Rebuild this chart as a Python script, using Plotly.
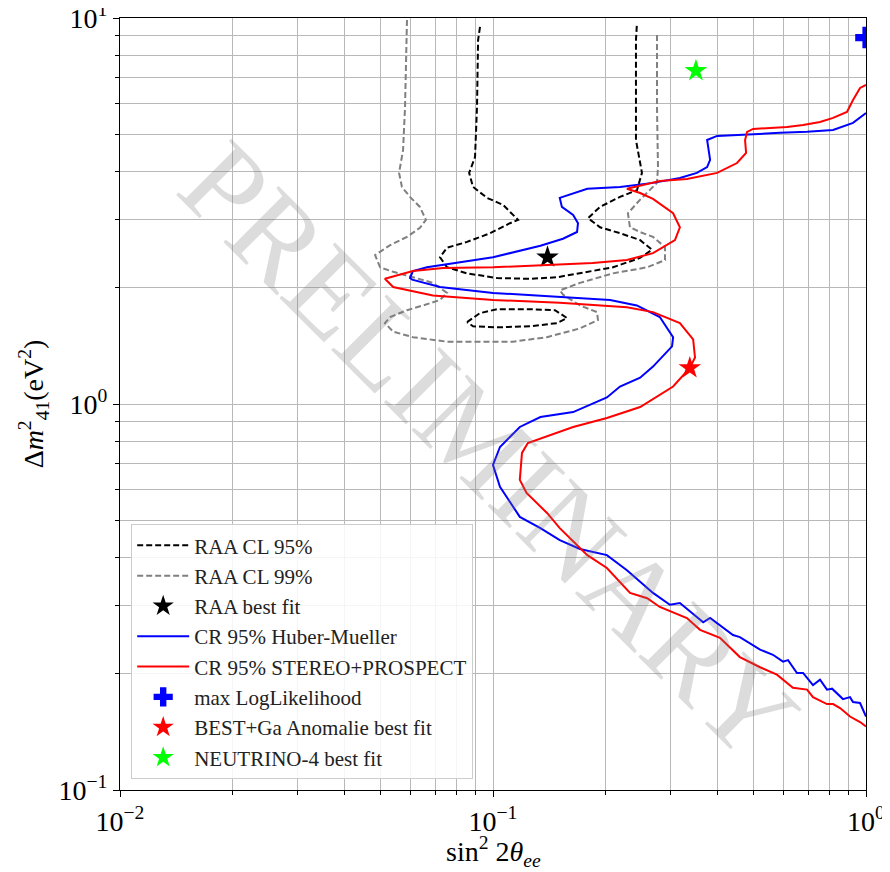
import plotly.graph_objects as go

# ---------------- data ----------------
hm_x = [1.0, 0.923, 0.816, 0.695, 0.588, 0.498, 0.432, 0.399, 0.375, 0.377, 0.382, 0.375, 0.352, 0.317,
        0.2685, 0.219, 0.179, 0.151, 0.153, 0.164, 0.169, 0.168, 0.154, 0.134, 0.118, 0.1, 0.0816, 0.0665,
        0.061, 0.0599, 0.0607, 0.0721, 0.1, 0.151, 0.206, 0.243, 0.280, 0.304, 0.302, 0.2685, 0.248, 0.219,
        0.202, 0.164, 0.134, 0.118, 0.1044, 0.1, 0.1044, 0.118, 0.134, 0.151, 0.171, 0.202, 0.2286, 0.2685,
        0.298, 0.317, 0.366, 0.382, 0.440, 0.459, 0.520, 0.563, 0.599, 0.618, 0.653, 0.678, 0.721, 0.753,
        0.786, 0.811, 0.8675, 0.906, 0.923, 0.964, 1.0]
hm_y = [5.67, 5.35, 5.13, 5.07, 5.04, 5.01, 4.98, 4.95, 4.83, 4.63, 4.29, 4.11, 3.97, 3.85,
        3.74, 3.65, 3.61, 3.42, 3.24, 3.09, 2.94, 2.79, 2.68, 2.57, 2.49, 2.40, 2.33, 2.26,
        2.21, 2.12, 2.10, 2.01, 1.94, 1.89, 1.86, 1.80, 1.68, 1.49, 1.41, 1.25, 1.17, 1.11,
        1.04, 0.953, 0.925, 0.872, 0.774, 0.695, 0.610, 0.510, 0.477, 0.444, 0.421, 0.406, 0.371, 0.324,
        0.302, 0.305, 0.272, 0.279, 0.252, 0.249, 0.231, 0.224, 0.215, 0.217, 0.201, 0.201, 0.187, 0.193,
        0.182, 0.183, 0.172, 0.174, 0.169, 0.168, 0.155]

sp_x = [1.0, 0.964, 0.923, 0.889, 0.816, 0.753, 0.678, 0.614, 0.498, 0.480, 0.474, 0.477, 0.451, 0.399,
        0.331, 0.280, 0.2286, 0.248, 0.2685, 0.304, 0.317, 0.3075, 0.2685, 0.2286, 0.185, 0.1396, 0.1,
        0.0735, 0.061, 0.0513, 0.054, 0.069, 0.1, 0.151, 0.2286, 0.2685, 0.317, 0.344, 0.348, 0.337, 0.304,
        0.248, 0.202, 0.164, 0.134, 0.124, 0.1196, 0.118, 0.123, 0.1396, 0.151, 0.179, 0.202, 0.233, 0.259,
        0.280, 0.331, 0.359, 0.406, 0.459, 0.520, 0.577, 0.637, 0.695, 0.721, 0.786, 0.816, 0.852, 0.906,
        0.964, 1.0]
sp_y = [6.71, 6.59, 6.13, 5.71, 5.51, 5.38, 5.28, 5.22, 5.16, 5.07, 4.83, 4.47, 4.21, 3.97,
        3.83, 3.78, 3.61, 3.52, 3.40, 3.12, 2.87, 2.66, 2.46, 2.36, 2.32, 2.29, 2.26,
        2.25, 2.21, 2.11, 2.01, 1.91, 1.86, 1.83, 1.78, 1.73, 1.62, 1.47, 1.32, 1.24, 1.11,
        0.982, 0.920, 0.872, 0.816, 0.792, 0.747, 0.636, 0.588, 0.522, 0.477, 0.406, 0.376, 0.324, 0.314,
        0.298, 0.279, 0.260, 0.248, 0.221, 0.208, 0.199, 0.184, 0.182, 0.174, 0.167, 0.167, 0.163, 0.155,
        0.150, 0.146]

raa95_x = [0.0923, 0.0912, 0.0906, 0.0895, 0.0863, 0.0884, 0.0964, 0.1064, 0.1167, 0.111, 0.0982, 0.0852,
           0.0753, 0.0721, 0.0753, 0.0852, 0.1025, 0.1257, 0.1484, 0.1711, 0.2098, 0.2477, 0.2668, 0.2477,
           0.219, 0.1936, 0.1798, 0.1936, 0.219, 0.2432, 0.2508, 0.2417, 0.2417, 0.2432,
           None,
           0.0852, 0.0923, 0.1025, 0.1257, 0.1466, 0.1579, 0.1484, 0.1257, 0.1025, 0.0884, 0.0852]
raa95_y = [9.48, 8.77, 5.88, 4.36, 3.97, 3.65, 3.42, 3.28, 3.00, 2.94, 2.77, 2.63,
           2.54, 2.40, 2.26, 2.18, 2.12, 2.11, 2.13, 2.18, 2.26, 2.39, 2.51, 2.66,
           2.77, 2.87, 3.03, 3.24, 3.44, 3.58, 3.97, 4.83, 8.77, 9.70,
           None,
           1.63, 1.72, 1.76, 1.76, 1.75, 1.67, 1.62, 1.59, 1.58, 1.59, 1.63]

raa99_x = [0.0588, 0.0581, 0.0574, 0.0560, 0.0570, 0.0599, 0.0637, 0.0661, 0.0637, 0.0588, 0.0530, 0.0483,
           0.0498, 0.0540, 0.0610, 0.0690, 0.0753, 0.0721, 0.0649, 0.0588, 0.0530, 0.0513, 0.0540, 0.0610,
           0.0753, 0.0923, 0.1131, 0.1396, 0.1711, 0.1912, 0.1900, 0.1711, 0.1541, 0.1512, 0.1711, 0.2098,
           0.2587, 0.2891, 0.2891, 0.2685, 0.2477, 0.2329, 0.2300, 0.2477, 0.2752, 0.2769, 0.2752, 0.2752]
raa99_y = [9.88, 5.88, 4.55, 3.97, 3.65, 3.44, 3.24, 3.00, 2.86, 2.71, 2.58, 2.43,
           2.26, 2.20, 2.13, 2.06, 1.94, 1.86, 1.80, 1.75, 1.68, 1.62, 1.54, 1.49,
           1.45, 1.45, 1.45, 1.49, 1.57, 1.65, 1.73, 1.80, 1.92, 1.97, 2.06, 2.18,
           2.26, 2.36, 2.55, 2.71, 2.79, 2.87, 3.12, 3.38, 3.74, 4.11, 5.88, 9.14]

raa_best = (0.14, 2.4)
maxll = (1.0, 8.9)
best_ga = (0.337, 1.24)
nu4 = (0.35, 7.3)

x_major = [0.01, 0.1, 1]
x_major_text = ["10<sup>−2</sup>", "10<sup>−1</sup>", "10<sup>0</sup>"]
y_major = [0.1, 1, 10]
y_major_text = ["10<sup>−1</sup>", "10<sup>0</sup>", "10<sup>1</sup>"]
minor_x = [m * d for d in (0.01, 0.1) for m in range(2, 10)]
minor_y = [m * d for d in (0.1, 1) for m in range(2, 10)]

x_title = "sin<sup>2</sup> 2<i>θ</i><sub><i>ee</i></sub>"
y_title = "Δ<i>m</i><sup>2</sup><sub>41</sub>(eV<sup>2</sup>)"

# ---------------- figure ----------------
FONT = "Liberation Serif"
fig = go.Figure()

fig.add_trace(go.Scatter(x=raa95_x, y=raa95_y, mode="lines", name="RAA CL 95%",
                         line=dict(color="black", width=2, dash="6px,3px"), connectgaps=False,
                         legendgroup="a"))
fig.add_trace(go.Scatter(x=raa99_x, y=raa99_y, mode="lines", name="RAA CL 99%",
                         line=dict(color="#808080", width=2, dash="6px,3px"), legendgroup="b"))
fig.add_trace(go.Scatter(x=[raa_best[0]], y=[raa_best[1]], mode="markers", name="RAA best fit",
                         marker=dict(symbol="star", size=17, color="black"), legendgroup="c"))
fig.add_trace(go.Scatter(x=hm_x, y=hm_y, mode="lines", name="CR 95% Huber-Mueller",
                         line=dict(color="blue", width=2), legendgroup="d"))
fig.add_trace(go.Scatter(x=sp_x, y=sp_y, mode="lines", name="CR 95% STEREO+PROSPECT",
                         line=dict(color="red", width=2), legendgroup="e"))
fig.add_trace(go.Scatter(x=[maxll[0]], y=[maxll[1]], mode="markers", name="max LogLikelihood",
                         marker=dict(symbol="cross", size=18, color="blue"), legendgroup="f"))
fig.add_trace(go.Scatter(x=[best_ga[0]], y=[best_ga[1]], mode="markers", name="BEST+Ga Anomalie best fit",
                         marker=dict(symbol="star", size=17, color="red"), legendgroup="g"))
fig.add_trace(go.Scatter(x=[nu4[0]], y=[nu4[1]], mode="markers", name="NEUTRINO-4 best fit",
                         marker=dict(symbol="star", size=17, color="#00ff00"), legendgroup="h"))

axis_common = dict(
    type="log", showline=True, linecolor="black", linewidth=1.2, mirror=True,
    ticks="outside", ticklen=6, tickwidth=1, tickcolor="black",
    showgrid=True, gridcolor="#b8b8b8", gridwidth=1, zeroline=False, automargin=False,
    ticklabeloverflow="allow",
    tickfont=dict(family=FONT, size=28, color="black"),
)

fig.update_xaxes(range=[-2, 0], tickvals=x_major, ticktext=x_major_text,
                 minor=dict(tickvals=minor_x, showgrid=True, gridcolor="#b8b8b8", gridwidth=1,
                            ticks="outside", ticklen=3.5, tickcolor="black"),
                 **axis_common)
fig.update_yaxes(range=[-1, 1], tickvals=y_major, ticktext=y_major_text,
                 minor=dict(tickvals=minor_y, showgrid=True, gridcolor="#b8b8b8", gridwidth=1,
                            ticks="outside", ticklen=3.5, tickcolor="black"),
                 title=dict(text=y_title, font=dict(family=FONT, size=28, color="black"), standoff=6),
                 **axis_common)

# x-axis title (placed as annotation for exact vertical position)
fig.add_annotation(text=x_title, xref="paper", yref="paper", x=0.5, y=0, yanchor="top",
                   yshift=-40, showarrow=False,
                   font=dict(family=FONT, size=28, color="black"))

fig.add_annotation(text="PRELIMINARY", xref="paper", yref="paper", x=0.495, y=0.44,
                   showarrow=False, textangle=45,
                   font=dict(family=FONT, size=120, color="rgba(120,120,120,0.26)"))

# the page adds an 8px body margin, so the figure is 8px smaller than the window
fig.update_layout(
    width=882, height=864,
    margin=dict(l=112, r=24, t=10, b=82),
    plot_bgcolor="white", paper_bgcolor="white",
    font=dict(family=FONT, color="black"),
    showlegend=True,
    legend=dict(x=0.015, y=0.014, xanchor="left", yanchor="bottom",
                bgcolor="rgba(255,255,255,0.85)", bordercolor="#cccccc", borderwidth=1,
                font=dict(family=FONT, size=21, color="#222222"), tracegroupgap=0,
                itemwidth=52),
)

fig.write_html("out.html")
